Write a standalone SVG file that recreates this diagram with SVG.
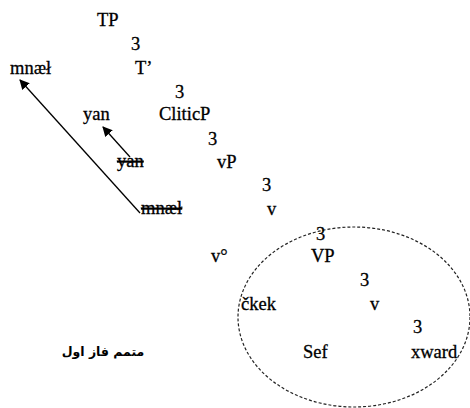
<svg xmlns="http://www.w3.org/2000/svg" width="470" height="408" viewBox="0 0 470 408">
<style>
text{font-family:"Liberation Serif","Times New Roman",serif;font-size:18.5px;fill:#000;stroke:#000;stroke-width:0.3}
.s{text-decoration:line-through}
.ar{font-family:"DejaVu Sans","Noto Sans",sans-serif;font-size:12.5px;font-weight:bold;stroke-width:0}
.c{fill:none;stroke:#000;stroke-width:1.3}
.el{fill:none;stroke:#222;stroke-width:1.2;stroke-dasharray:3 2}
</style>
<defs>
<marker id="ah" viewBox="0 0 10 10" refX="9" refY="5" markerWidth="10" markerHeight="10" markerUnits="userSpaceOnUse" orient="auto">
<path d="M0,0 L10,5 L0,10 z" fill="#000"/>
</marker>
</defs>
<g id="phase"><ellipse class="el" cx="354" cy="317" rx="116" ry="90"/></g>
<g id="connectors">
<line class="c" x1="140" y1="213" x2="20" y2="80" marker-end="url(#ah)"/>
<line class="c" x1="130" y1="157" x2="103" y2="127" marker-end="url(#ah)"/>
</g>
<g id="n-TP"><text x="97" y="26">TP</text></g>
<g id="b1"><text x="131" y="50">3</text></g>
<g id="n-mnael1"><text x="10" y="74">mnæł</text></g>
<g id="n-Tbar"><text x="135" y="74">T’</text></g>
<g id="b2"><text x="175" y="98">3</text></g>
<g id="n-yan1"><text x="83" y="120">yan</text></g>
<g id="n-CliticP"><text x="159" y="120">CliticP</text></g>
<g id="b3"><text x="208" y="145">3</text></g>
<g id="n-yan2"><text class="s" x="117" y="167">yan</text></g>
<g id="n-vP"><text x="217" y="168">vP</text></g>
<g id="b4"><text x="262" y="191">3</text></g>
<g id="n-mnael2"><text class="s" x="141" y="214">mnæł</text></g>
<g id="n-v1"><text x="267" y="215">v</text></g>
<g id="b5"><text x="316" y="240">3</text></g>
<g id="n-v0"><text x="211" y="262">v°</text></g>
<g id="n-VP"><text x="311" y="262">VP</text></g>
<g id="b6"><text x="360" y="286">3</text></g>
<g id="n-ckek"><text x="241" y="310">čkek</text></g>
<g id="n-v2"><text x="370" y="310">v</text></g>
<g id="b7"><text x="413" y="333">3</text></g>
<g id="n-Sef"><text x="303" y="358">Sef</text></g>
<g id="n-xward"><text x="411" y="358">xward</text></g>
<g id="label"><text class="ar" x="103" y="356" text-anchor="middle">متمم فاز اول</text></g>
</svg>
